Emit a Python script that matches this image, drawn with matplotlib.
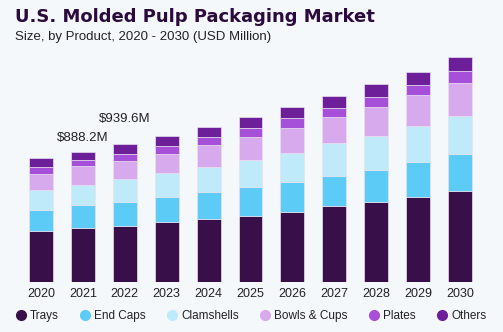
import numpy as np
import matplotlib.pyplot as plt

# 資料 (USD Million)
years = ["2020", "2021", "2022", "2023", "2024", "2025", "2026", "2027", "2028", "2029", "2030"]
products = ["Trays", "End Caps", "Clamshells", "Bowls & Cups", "Plates", "Others"]
trays = [346, 369, 384, 411, 428, 452, 479, 516, 543, 582, 619]
end_caps = [148, 155, 163, 166, 184, 196, 203, 208, 221, 235, 251]
clamshells = [130, 139, 152, 164, 171, 183, 196, 221, 233, 244, 263]
bowls_cups = [114, 125, 127, 134, 150, 160, 174, 178, 196, 212, 224]
plates = [46, 43, 45, 50, 55, 62, 66, 66, 71, 71, 84]
others = [61, 57, 68, 73, 68, 71, 75, 78, 87, 89, 91]
label_idx = [1, 2]
label_txt = ["$888.2M", "$939.6M"]
label_y = [985, 1108]

colors = ["#380f48", "#5ccbf6", "#bfeaf9", "#d7aaed", "#a650d9", "#6d1f9a"]
bg = "#f4f8fb"

series = [trays, end_caps, clamshells, bowls_cups, plates, others]

fig = plt.figure(figsize=(5.03, 3.32), dpi=100, facecolor=bg)
ax = fig.add_axes([0, 50 / 332, 1, 242 / 332])
ax.set_facecolor(bg)

x = np.arange(len(years))
bottom = np.zeros(len(years))
for name, vals, c in zip(products, series, colors):
    ax.bar(x, vals, 0.57, bottom=bottom, color=c, label=name,
           edgecolor="#e9dff0", linewidth=0.5)
    bottom += np.array(vals)

for i, txt, yy in zip(label_idx, label_txt, label_y):
    ax.text(x[i], yy, txt, ha="center", va="center",
            fontsize=9.5, family="Liberation Sans", color="#222222")

ax.set_xlim(-41 / 41.9, 462 / 41.9)
ax.set_ylim(0, 242 * 6.817)
for s in ax.spines.values():
    s.set_visible(False)
ax.set_yticks([])
ax.set_xticks(x)
ax.set_xticklabels(years, fontsize=9, family="Liberation Sans", color="#222222")
ax.tick_params(axis="x", length=0, pad=4)

fig.text(15 / 503, 1 - 17 / 332, "U.S. Molded Pulp Packaging Market", fontsize=13,
         fontweight="heavy", family="DejaVu Sans", color="#2b0a3d", va="center")
fig.text(15 / 503, 1 - 37 / 332, "Size, by Product, 2020 - 2030 (USD Million)", fontsize=9.5,
         family="Liberation Sans", color="#222222", va="center")

handles = [plt.Line2D([], [], marker="o", linestyle="none", markersize=7, color=c) for c in colors]
fig.legend(handles, products, loc="center", bbox_to_anchor=(0.497, 1 - 316 / 332), ncol=6,
           frameon=False, handletextpad=0.2, columnspacing=1.6, handlelength=1.2,
           prop={"family": "Liberation Sans", "size": 8.5}, labelcolor="#222222")

plt.savefig("out.png", dpi=100, facecolor=bg)
